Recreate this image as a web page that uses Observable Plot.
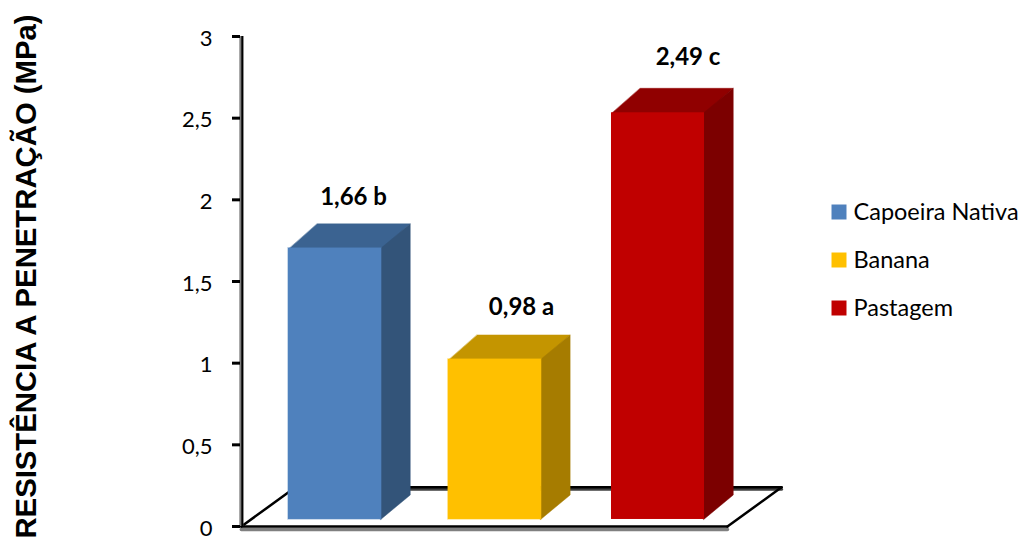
<!DOCTYPE html>
<html>
<head>
<meta charset="utf-8">
<script src="https://cdn.jsdelivr.net/npm/d3@7"></script>
<script src="https://cdn.jsdelivr.net/npm/@observablehq/plot@0.6"></script>
<style>
  html, body { margin: 0; padding: 0; background: #fff; overflow: hidden; }
  svg { display: block; }
</style>
</head>
<body>
<script>
// Soil penetration resistance by land use
const categories = ["Capoeira Nativa", "Banana", "Pastagem"];
const values = [1.66, 0.98, 2.49];
const letters = ["b", "a", "c"];
const frontColors = ["#4F81BD", "#FFC000", "#C00000"];
const topColors = ["#3B6391", "#C49500", "#900000"];
const sideColors = ["#335479", "#A67C00", "#7C0000"];
const yTicks = [0, 0.5, 1, 1.5, 2, 2.5, 3];
const yTitle = "RESISTÊNCIA A PENETRAÇÃO (MPa)";

// Pseudo-3D geometry, in scale units
const barCenters = [0.5, 1.49, 2.5];
const halfWidth = 0.288;
const depthX = 0.178;
const depthY = 0.15;
const lift = 0.043;
const overlap = 0.005;
const labelGaps = [0.355, 0.36, 0.38];
const labelShift = [0.115, 0.165, 0.186];
const floor = {left: -0.08, right: 2.93, backX: 0.335, backY: 0.24};

const comma = (v) => String(v).replace(".", ",");

// Each bar contributes a top and a side polygon behind its front rectangle
const faces = categories.flatMap((name, i) => {
  const x1 = barCenters[i] - halfWidth, x2 = barCenters[i] + halfWidth;
  const y1 = lift, y2 = values[i] + lift;
  const top = [[x1, y2 - overlap], [x2, y2 - overlap], [x2 + depthX, y2 + depthY], [x1 + depthX, y2 + depthY]];
  const side = [[x2 - overlap, y1], [x2 + depthX, y1 + depthY], [x2 + depthX, y2 + depthY], [x2 - overlap, y2]];
  return [
    ...top.map(([x, y]) => ({key: name + "-top", x, y, color: topColors[i]})),
    ...side.map(([x, y]) => ({key: name + "-side", x, y, color: sideColors[i]}))
  ];
});
const fronts = categories.map((name, i) => ({
  x1: barCenters[i] - halfWidth, x2: barCenters[i] + halfWidth,
  y1: lift, y2: values[i] + lift, color: frontColors[i]
}));
const labels = categories.map((name, i) => ({
  x: barCenters[i] + labelShift[i], y: values[i] + labelGaps[i], text: comma(values[i]) + " " + letters[i]
}));

// Floor plate outline
const floorLines = [
  [[floor.left, 0], [floor.right, 0]],
  [[floor.left + floor.backX, floor.backY], [floor.right + floor.backX, floor.backY]],
  [[floor.left, 0], [floor.left + floor.backX, floor.backY]],
  [[floor.right, 0], [floor.right + floor.backX, floor.backY]]
].flatMap((seg, k) => seg.map(([x, y]) => ({k, x, y})));

// Legend entries sit at fixed offsets from the frame corner
const legendMarks = categories.flatMap((name, i) => [
  Plot.dot([name], {frameAnchor: "top-left", dx: 598.5, dy: 175.5 + 48 * i, symbol: "square", r: 8.46, fill: frontColors[i], stroke: "none"}),
  Plot.text([name], {frameAnchor: "top-left", dx: 613, dy: 176 + 48 * i, text: (d) => d, textAnchor: "start", lineAnchor: "middle", fontSize: 23.5, fontFamily: "Lato", fill: "#000"})
]);

const chart = Plot.plot({
  width: 1019,
  height: 539,
  marginLeft: 240,
  marginTop: 36,
  marginBottom: 13,
  marginRight: 0,
  x: {domain: [0, 3], range: [253.75, 738.25], axis: null},
  y: {domain: [0, 3]},
  color: {type: "identity"},
  style: {background: "#fff", overflow: "visible"},
  marks: [
    // Floor shadows and outline
    Plot.line(floorLines.filter((d) => d.k === 0), {x: "x", y: "y", stroke: "#808080", strokeWidth: 3.5, dy: 3}),
    Plot.line(floorLines.filter((d) => d.k === 1), {x: "x", y: "y", stroke: "#404040", strokeWidth: 3, dy: 2}),
    Plot.line(floorLines, {x: "x", y: "y", z: "k", stroke: "#000", strokeWidth: 2.5}),
    // Vertical axis line, tick marks and tick labels
    Plot.ruleX([floor.left], {y1: 0, y2: 3, stroke: "#808080", strokeWidth: 4}),
    Plot.ruleX([floor.left], {y1: 0, y2: 3, stroke: "#000", strokeWidth: 2, dx: 1}),
    Plot.axisY({ticks: yTicks, tickFormat: () => "", label: null, tickSize: 8, strokeWidth: 3, stroke: "#000"}),
    Plot.axisY({ticks: yTicks, tickFormat: comma, label: null, tickSize: 0, tickPadding: 28, dy: 2, fontSize: 22, fontFamily: "Lato", fill: "#000"}),
    // Bars, with a soft edge on the extruded faces
    Plot.line(faces, {x: "x", y: "y", z: "key", fill: "color", stroke: "color", strokeWidth: 1, strokeOpacity: 0.45, curve: "linear-closed"}),
    Plot.rect(fronts.slice(0, 2), {x1: "x1", x2: "x2", y1: "y1", y2: "y2", stroke: "color", strokeWidth: 1.5, strokeOpacity: 0.4}),
    Plot.rect(fronts, {x1: "x1", x2: "x2", y1: "y1", y2: "y2", fill: "color"}),
    Plot.text(labels, {x: "x", y: "y", text: "text", fontSize: 24, fontWeight: "bold", fontFamily: "Lato", fill: "#000"}),
    // Axis title
    Plot.text([yTitle], {frameAnchor: "top-left", dx: -213.5, dy: 240, rotate: -90, text: (d) => d, textAnchor: "middle", lineAnchor: "middle", fontSize: 29.3, fontWeight: "bold", fontFamily: "Liberation Sans", fill: "#000"}),
    ...legendMarks
  ]
});
document.body.appendChild(chart);
</script>
</body>
</html>
